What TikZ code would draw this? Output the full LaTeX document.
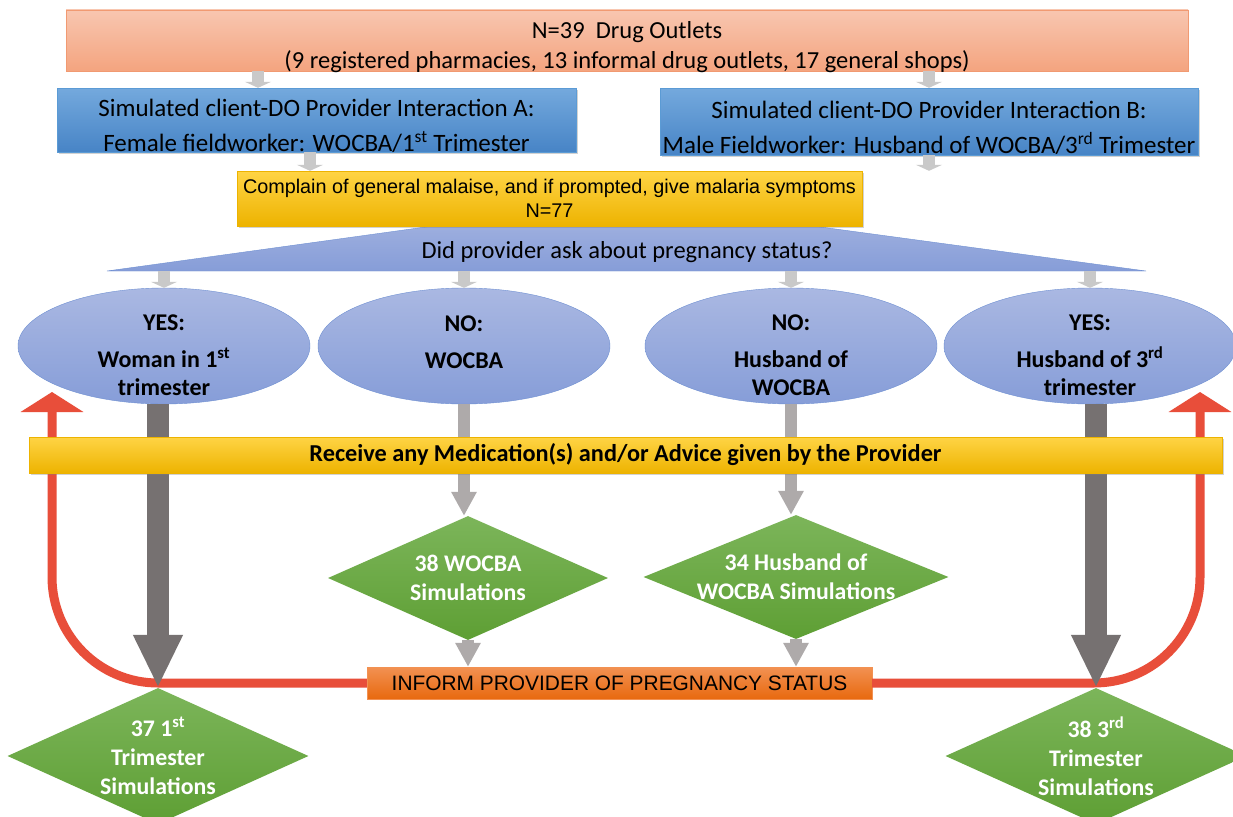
\documentclass[tikz,border=0pt]{standalone}
\usepackage{fontspec}
\setmainfont{Carlito}
\newfontfamily\arialfont{Liberation Sans}
\usetikzlibrary{arrows.meta,positioning,shapes.geometric,shadows,calc}
\definecolor{salmontop}{HTML}{F8C6B0}
\definecolor{salmonbot}{HTML}{F4A47F}
\definecolor{salmonedge}{HTML}{F19A72}
\definecolor{bluetop}{HTML}{74A9DD}
\definecolor{bluebot}{HTML}{4784C6}
\definecolor{blueedge}{HTML}{5B9BD5}
\definecolor{goldtop}{HTML}{FFD445}
\definecolor{goldbot}{HTML}{EDB300}
\definecolor{lavtop}{HTML}{AAB8E2}
\definecolor{lavbot}{HTML}{869DD8}
\definecolor{lavedge}{HTML}{6F90D2}
\definecolor{orangetop}{HTML}{F29152}
\definecolor{orangebot}{HTML}{E8690F}
\definecolor{greentop}{HTML}{7CB55A}
\definecolor{greenbot}{HTML}{5E9F34}
\definecolor{darkarrow}{HTML}{767171}
\definecolor{midarrow}{HTML}{AEAAAA}
\definecolor{lightarrow}{HTML}{C9C9C9}
\definecolor{feedred}{HTML}{E84E3A}
\newcommand{\raiseline}[1]{\rule{0pt}{#1}}
\tikzset{
	shade/.style={drop shadow={opacity=0.35,shadow xshift=2pt,shadow yshift=-2pt}},
	box/.style={rectangle,inner sep=0pt,align=center},
	outlet box/.style={box,inner ysep=-5pt,draw=salmonedge,top color=salmontop,bottom color=salmonbot,
		font=\fontsize{24.5}{30}\selectfont},
	sim box/.style={box,inner ysep=-5pt,draw=blueedge,top color=bluetop,bottom color=bluebot,shade,
		font=\fontsize{25}{35}\selectfont},
	gold box/.style={box,draw=goldbot,top color=goldtop,bottom color=goldbot,shade},
	oval/.style={ellipse,draw=lavedge,top color=lavtop,bottom color=lavbot,inner sep=-10pt,
		minimum width=292,minimum height=116,align=center,
		font=\bfseries\fontsize{24}{28}\selectfont},
	count/.style={diamond,top color=greentop,bottom color=greenbot,inner sep=-14pt,
		align=center,text=white,font=\bfseries\fontsize{23.8}{29}\selectfont},
	stub/.style={draw=lightarrow,line width=12pt,-{Triangle[width=26pt,length=6pt]}},
	pass/.style={draw=midarrow,line width=12pt,-{Triangle[width=24pt,length=24pt]}},
	heavy/.style={draw=darkarrow,line width=22pt,-{Triangle[width=46pt,length=53pt]}},
	feedback/.style={draw=feedred,line width=9pt,rounded corners=106pt,
		-{Triangle[width=62pt,length=20pt]}}
}
\begin{document}
\begin{tikzpicture}[x=1pt,y=-1pt]
  \path[use as bounding box,clip] (0,0) rectangle (1233,816);
  \fill[white] (0,0) rectangle (1233,816);
  % question wedge behind the complaint box
  \path[draw=lavedge,top color=lavtop,bottom color=lavbot] (107,271) coordinate (wedge)
    -- (621,200) -- (1146,271) -- cycle;
  \node[outlet box,minimum width=1122,minimum height=61] (outlets) at (627,40.5)
    {\raiseline{30pt}N=39~~Drug Outlets\\(9 registered pharmacies, 13 informal drug outlets, 17 general shops)};
  \node[sim box,minimum width=519,minimum height=64] (simA) at (316.5,120)
    {\raiseline{30pt}Simulated client-DO Provider Interaction A:\\Female fieldworker: WOCBA/1\textsuperscript{st} Trimester};
  \node[sim box,minimum width=538,minimum height=67] (simB) at (929,121.5)
    {\raiseline{30pt}Simulated client-DO Provider Interaction B:\\Male Fieldworker: Husband of WOCBA/3\textsuperscript{rd} Trimester};
  \node[gold box,minimum width=625,minimum height=55,font=\arialfont\fontsize{19.8}{24}\selectfont] (complain) at (549.5,198.5)
    {Complain of general malaise, and if prompted, give malaria symptoms\\N=77};
  \node[font=\fontsize{24.5}{24}\selectfont] (ask) at (627,252) {Did provider ask about pregnancy status?};
  \node[oval] (yesA) at (164,346) {\raiseline{35pt}YES:\\[9pt]Woman in 1\textsuperscript{st}\\trimester};
  \node[oval] (noA) at (464,346) {NO:\\[9pt]WOCBA\rule[-8pt]{0pt}{8pt}};
  \node[oval] (noB) at (791,346) {\raiseline{35pt}NO:\\[9pt]Husband of\\WOCBA};
  \node[oval] (yesB) at (1090,346) {\raiseline{35pt}YES:\\[9pt]Husband of 3\textsuperscript{rd}\\trimester};
  \node[count,minimum width=280,minimum height=124,aspect=2.26] (wocba) at (468,578)
    {38 WOCBA\\Simulations};
  \node[count,minimum width=305,minimum height=124,aspect=2.46] (husband) at (796,577)
    {34 Husband of\\WOCBA Simulations};
  \node[box,draw=orangetop,top color=orangetop,bottom color=orangebot,minimum width=505,minimum height=32,
    font=\arialfont\fontsize{20.9}{22}\selectfont] (inform) at (619.5,683) {INFORM PROVIDER OF PREGNANCY STATUS};
  \node[count,minimum width=301,minimum height=136,aspect=2.21] (first) at (158,756)
    {37 1\textsuperscript{st}\\Trimester\\Simulations};
  \node[count,minimum width=301,minimum height=136,aspect=2.21] (third) at (1096,756)
    {38 3\textsuperscript{rd}\\Trimester\\Simulations};
  \draw[stub] (outlets.south -| 258,0) -- (simA.north -| 258,0);
  \draw[stub] (outlets.south -| simB) -- (simB.north);
  \draw[stub] (simA.south -| 310,0) -- (complain.north -| 310,0);
  \draw[stub] (simB.south) -- (simB.south |- complain.north);
  \foreach \n in {yesA,noA,noB,yesB}
    \draw[stub] (\n.north |- wedge) -- (\n.north);
  \draw[feedback] (inform.west) -| (52,392);
  \draw[feedback] (inform.east) -| (1200,392);
  \draw[pass] (noA.south) -- (noA.south |- wocba.north);
  \draw[pass] (noB.south) -- (noB.south |- husband.north);
  \draw[pass] (wocba.south) -- (wocba.south |- inform.north);
  \draw[pass] (husband.south) -- (husband.south |- inform.north);
  \draw[heavy] (yesA.south -| first) -- (first.north);
  \draw[heavy] (yesB.south -| third) -- (third.north);
  \node[gold box,minimum width=1193,minimum height=36,font=\bfseries\fontsize{24.3}{26}\selectfont] (receive) at (625.5,455)
    {Receive any Medication(s) and/or Advice given by the Provider};
\end{tikzpicture}
\end{document}
